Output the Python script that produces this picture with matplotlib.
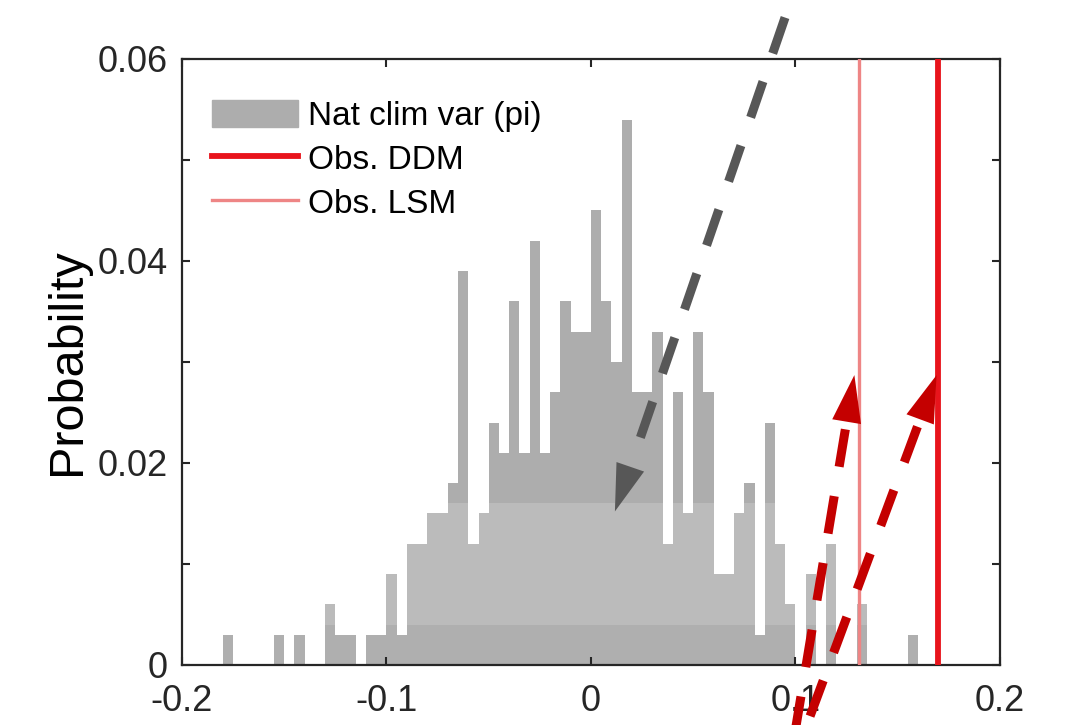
import numpy as np
import matplotlib.pyplot as plt
from matplotlib.patches import Patch
from matplotlib.lines import Line2D

plt.rcParams['font.family'] = ['Liberation Sans', 'DejaVu Sans']
plt.rcParams['axes.unicode_minus'] = False

# histogram of natural climate variability (pre-industrial control)
bin_start = -0.18
bin_width = 0.005
prob = [0.003, 0, 0, 0, 0, 0.003, 0, 0.003, 0, 0,
        0.006, 0.003, 0.003, 0, 0.003, 0.003, 0.009, 0.003, 0.012, 0.012,
        0.015, 0.015, 0.018, 0.039, 0.012, 0.015, 0.024, 0.021, 0.036, 0.021,
        0.042, 0.021, 0.027, 0.036, 0.033, 0.033, 0.045, 0.036, 0.030, 0.054,
        0.027, 0.027, 0.033, 0.012, 0.027, 0.015, 0.033, 0.027, 0.009, 0.009,
        0.015, 0.018, 0.003, 0.024, 0.012, 0.006, 0, 0.009, 0, 0.012,
        0, 0, 0.006, 0, 0, 0, 0, 0.003]

# observed values
obs_ddm = 0.1695
obs_lsm = 0.1313

xticks = [-0.2, -0.1, 0, 0.1, 0.2]
xticklabels = ['-0.2', '-0.1', '0', '0.1', '0.2']
yticks = [0, 0.01, 0.02, 0.03, 0.04, 0.05, 0.06]
yticklabels = ['0', '', '0.02', '', '0.04', '', '0.06']

# dashed arrows drawn on top of the figure (tail, tip) in data units
grey_arrow = [(0.0949, 0.0641), (0.0117, 0.0152)]
red_arrows = [[(0.0999, -0.0065), (0.1288, 0.0287)],
              [(0.1045, -0.0065), (0.1690, 0.0287)]]

fig = plt.figure(figsize=(10.75, 7.25), dpi=100)
ax = fig.add_axes([0.1693, 0.0828, 0.7609, 0.8359])

prob = np.array(prob)
left = bin_start + bin_width * np.arange(len(prob))

# the picture has faint horizontal bands in the grey, split the bars
low = np.minimum(prob, 0.004)
mid = np.clip(prob, 0.004, 0.016) - 0.004
high = np.maximum(prob - 0.016, 0)
ax.bar(left, low, width=bin_width, align='edge', color='#afafaf', lw=0)
ax.bar(left, mid, width=bin_width, bottom=0.004, align='edge', color='#bbbbbb', lw=0)
ax.bar(left, high, width=bin_width, bottom=0.016, align='edge', color='#adadad', lw=0)

ax.axvline(obs_lsm, color='#ee8585', lw=2.4, zorder=3)
ax.axvline(obs_ddm, color='#e8141c', lw=4.2, zorder=3)

ax.set_xlim(-0.2, 0.2)
ax.set_ylim(0, 0.06)
ax.set_xticks(xticks)
ax.set_xticklabels(xticklabels)
ax.set_yticks(yticks)
ax.set_yticklabels(yticklabels)
ax.tick_params(direction='in', length=6, width=1.5, top=True, right=True,
               labelsize=26, colors='#262626')
ax.tick_params(axis='x', pad=14)
ax.tick_params(axis='y', pad=10)
for s in ax.spines.values():
    s.set_linewidth(1.6)
    s.set_color('#262626')
ax.set_ylabel('Probability', fontsize=35, labelpad=6)

handles = [Patch(color='#adadad'),
           Line2D([], [], color='#e8141c', lw=4.2),
           Line2D([], [], color='#ee8585', lw=2.4)]
ax.legend(handles, ['Nat clim var (pi)', 'Obs. DDM', 'Obs. LSM'],
          loc='upper left', bbox_to_anchor=(0.02, 0.955), borderaxespad=0,
          frameon=False, fontsize=24, handlelength=2.6, handleheight=0.9,
          handletextpad=0.3, labelspacing=0.35)


def dashed_arrow(tail, tip, color, from_tail):
    # head is ~47 px long, the dashes stop a little before its base
    p0 = ax.transData.transform(tail)
    p1 = ax.transData.transform(tip)
    d = (p0 - p1) / np.hypot(*(p0 - p1))
    stop = ax.transData.inverted().transform(p1 + d * (47 + 8))
    if from_tail:
        xs, ys = [tail[0], stop[0]], [tail[1], stop[1]]
    else:
        xs, ys = [stop[0], tail[0]], [stop[1], tail[1]]
    ax.plot(xs, ys, color=color, lw=6.5, ls=(0, (4.2, 3.3)),
            clip_on=False, zorder=6)
    ax.annotate('', xy=tip, xytext=tail,
                arrowprops=dict(arrowstyle='-|>,head_length=3.4,head_width=1.05',
                                mutation_scale=10, lw=0, color=color,
                                shrinkA=0, shrinkB=0),
                annotation_clip=False, zorder=6)


dashed_arrow(grey_arrow[0], grey_arrow[1], '#575757', True)
for tail, tip in red_arrows:
    dashed_arrow(tail, tip, '#c40000', False)

plt.savefig('out.png', dpi=100)
